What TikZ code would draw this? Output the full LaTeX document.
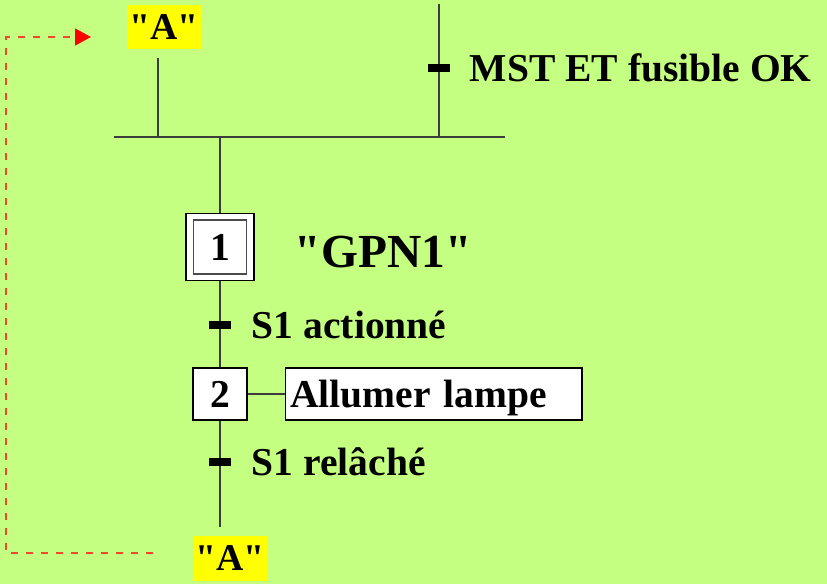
\documentclass[tikz,border=0pt]{standalone}
\usepackage{fontspec}
\setmainfont{Liberation Serif}
\usetikzlibrary{arrows.meta, positioning, calc}
\definecolor{fondvert}{RGB}{197,255,130}
\definecolor{renvoijaune}{RGB}{255,255,0}
\definecolor{liaison}{RGB}{60,60,60}
\definecolor{retourrouge}{RGB}{240,72,40}
\tikzset{
    etape/.style={rectangle, draw, fill=white, line width=0.6pt, minimum width=1.08cm, minimum height=1.04cm, inner sep=0pt, text height=0.55cm, text depth=0cm, font=\fontsize{22.5}{27}\selectfont\bfseries},
    etape init/.style={rectangle, draw, fill=white, line width=0.6pt, minimum width=1.36cm, minimum height=1.34cm, inner sep=0pt},
    etape inner/.style={rectangle, draw=black!70, line width=0.8pt, minimum width=1.06cm, minimum height=1.08cm, inner sep=0pt, text height=0.55cm, text depth=0cm, font=\fontsize{22.5}{27}\selectfont\bfseries},
    action/.style={rectangle, draw, fill=white, line width=0.6pt, text width=5.74cm, inner xsep=0.1cm, inner ysep=0pt, minimum height=1.04cm, text height=0.55cm, text depth=0.03cm, align=left, font=\fontsize{22.5}{27}\selectfont\bfseries},
    renvoi/.style={rectangle, fill=renvoijaune, minimum width=1.48cm, minimum height=0.9cm, inner sep=0pt, font=\fontsize{21.5}{26}\selectfont\bfseries},
    receptivite/.style={rectangle, fill=black, minimum width=0.45cm, minimum height=0.16cm, inner sep=0pt},
    recept label/.style={inner sep=0pt, anchor=west, font=\fontsize{22.5}{27}\selectfont\bfseries},
    grafcet label/.style={inner sep=0pt, anchor=west, font=\fontsize{27}{32}\selectfont\bfseries},
    liaison/.style={draw=liaison, line width=0.03cm},
    retour/.style={draw=retourrouge, line width=0.6pt, dash pattern=on 0.14cm off 0.16cm, -{Triangle[length=0.32cm, width=0.34cm, color=red]}}
}

\begin{document}
\begin{tikzpicture}[x=0.02cm, y=-0.02cm]
    \fill[fondvert] (0,0) rectangle (827,584);
    \useasboundingbox (0,0) rectangle (827,584);

    \node[renvoi] (renvoi haut) at (164,27) {\textquotedbl A\textquotedbl};
    \coordinate (entree1) at (158,58);
    \coordinate (jonction1) at (158,137);

    \coordinate (entree2) at (439,4);
    \node[receptivite] (t0) at (439,68) {};
    \node[recept label, right=0.38cm of t0] (t0 label) {MST ET fusible OK};
    \coordinate (jonction2) at (439,137);

    \coordinate (barre gauche) at (114,137);
    \coordinate (barre droite) at (505,137);
    \coordinate (jonction3) at (220,137);

    \node[etape init] (s1) at (220,247) {};
    \node[etape inner] (s1 inner) at (s1.center) {1};
    \node[grafcet label, right=0.8cm of s1, yshift=-0.1cm] (gpn1) {\textquotedbl GPN1\textquotedbl};

    \node[receptivite] (t1) at (220,325) {};
    \node[recept label, right=0.4cm of t1] (t1 label) {S1 actionné};

    \node[etape] (s2) at (220,394) {2};
    \node[action, right=0.74cm of s2] (allumer) {Allumer lampe};

    \node[receptivite] (t2) at (220,462) {};
    \node[recept label, right=0.4cm of t2] (t2 label) {S1 relâché};

    \coordinate (sortie) at (220,527);
    \node[renvoi] (renvoi bas) at (230,558) {\textquotedbl A\textquotedbl};

    \coordinate (retour depart) at (153,553);
    \coordinate (retour fin) at (91,37);

    \draw[liaison] (entree1) -- (jonction1);
    \draw[liaison] (entree2) -- (t0) -- (jonction2);
    \draw[liaison] (barre gauche) -- (barre droite);
    \draw[liaison] (jonction3) -- (s1);
    \draw[liaison] (s1) -- (t1) -- (s2);
    \draw[liaison] (s2) -- (allumer);
    \draw[liaison] (s2) -- (t2) -- (sortie);

    \draw[retour] (retour depart) -- ++(-147,0) |- (retour fin);
\end{tikzpicture}
\end{document}
